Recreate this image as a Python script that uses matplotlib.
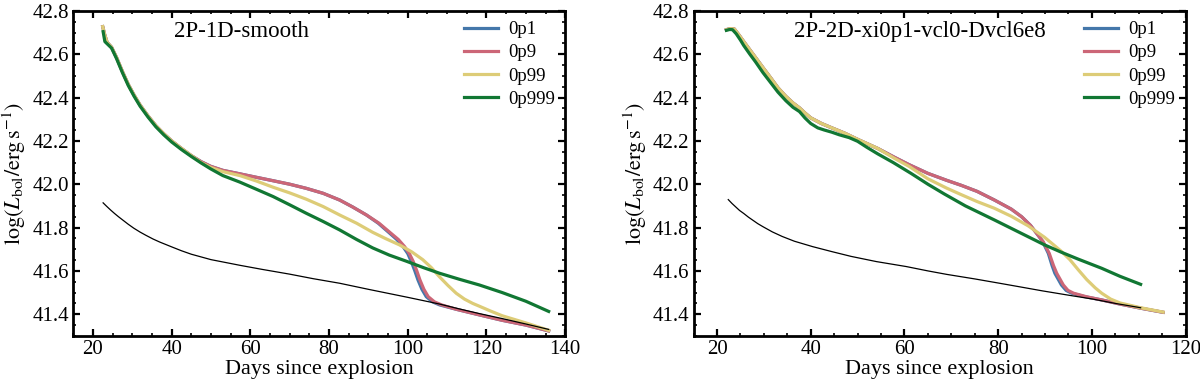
import matplotlib.pyplot as plt
from matplotlib.ticker import MultipleLocator

plt.rcParams['font.family'] = ['Liberation Serif', 'DejaVu Serif']
plt.rcParams['mathtext.fontset'] = 'stix'

labels = ['0p1', '0p9', '0p99', '0p999']
colors = ['#4477AA', '#CC6677', '#DDCC77', '#117733']

# ---- left panel: 2P-1D-smooth ----
l_early_day = [22.5, 23.0, 23.6, 24.75, 26.0, 27.5, 29.0, 30.5, 32.0, 34.0, 36.0, 38.0, 40.0, 42.5, 45.0]
l_early_val = [42.727, 42.69, 42.655, 42.632, 42.585, 42.52, 42.46, 42.41, 42.365, 42.315, 42.27,
               42.233, 42.2, 42.165, 42.132]

l_blue_day = l_early_day + [47.5, 50.0, 53.0, 57.3, 61.5, 65.8, 70.0, 74.2, 78.5, 82.7, 86.0, 89.5,
                            92.5, 95.4, 97.2, 98.8, 100.0, 100.9, 101.8, 102.6, 103.6, 104.7, 106.3,
                            108.1, 112.3, 118.2, 124.0, 130.0, 135.8]
l_blue_val = l_early_val + [42.104, 42.082, 42.064, 42.048, 42.032, 42.016, 42.0, 41.981, 41.958,
                            41.927, 41.895, 41.858, 41.82, 41.774, 41.745, 41.712, 41.68, 41.643,
                            41.6, 41.558, 41.515, 41.481, 41.457, 41.443, 41.423, 41.397, 41.372,
                            41.35, 41.323]
l_red_day = l_early_day + [47.5, 50.0, 53.0, 57.3, 61.5, 65.8, 70.0, 74.2, 78.5, 82.7, 86.0, 89.5,
                           92.7, 95.7, 97.6, 99.2, 100.4, 101.4, 102.3, 103.1, 104.1, 105.2, 106.8,
                           108.6, 112.3, 118.2, 124.0, 130.0, 135.8]
l_red_val = l_blue_val
l_yel_day = l_early_day + [47.5, 50.0, 53.0, 57.3, 61.5, 65.8, 70.0, 74.2, 78.5, 82.7, 87.0, 91.1,
                           94.5, 97.9, 101.0, 103.8, 106.0, 108.1, 110.2, 112.3, 114.4, 116.5, 118.2,
                           121.0, 124.0, 130.0, 135.8]
l_yel_val = l_early_val + [42.1, 42.077, 42.058, 42.04, 42.015, 41.986, 41.96, 41.931, 41.897,
                           41.858, 41.82, 41.778, 41.748, 41.72, 41.688, 41.652, 41.615, 41.572,
                           41.533, 41.497, 41.47, 41.45, 41.437, 41.415, 41.393, 41.36, 41.326]
l_grn_day = [22.6, 23.05, 23.9, 24.75, 26.0, 27.5, 29.0, 30.5, 32.0, 34.0, 36.0, 38.0, 40.0, 42.5,
             45.0, 47.5, 50.0, 53.0, 57.3, 61.5, 65.8, 70.0, 74.2, 78.5, 82.7, 87.0, 91.1, 95.3,
             99.6, 104.0, 108.1, 113.0, 118.2, 124.0, 130.0, 135.8]
l_grn_val = [42.704, 42.658, 42.643, 42.628, 42.58, 42.515, 42.455, 42.405, 42.36, 42.31, 42.265,
             42.228, 42.195, 42.16, 42.128, 42.098, 42.07, 42.04, 42.01, 41.977, 41.943, 41.905,
             41.866, 41.828, 41.789, 41.745, 41.706, 41.673, 41.645, 41.615, 41.589, 41.562,
             41.535, 41.5, 41.46, 41.413]
l_blk_day = [22.6, 23.5, 24.5, 25.5, 26.5, 27.5, 29.0, 30.4, 32.0, 33.5, 35.3, 37.0, 38.5, 40.0,
             42.5, 45.0, 50.0, 57.3, 63.0, 70.0, 76.0, 82.7, 90.0, 100.0, 108.1, 113.0, 118.2,
             124.0, 130.0, 135.8]
l_blk_val = [41.914, 41.898, 41.881, 41.865, 41.85, 41.836, 41.815, 41.797, 41.779, 41.764, 41.747,
             41.733, 41.722, 41.711, 41.693, 41.677, 41.652, 41.626, 41.607, 41.585, 41.564,
             41.543, 41.515, 41.478, 41.447, 41.425, 41.403, 41.38, 41.355, 41.33]

# ---- right panel: 2P-2D-xi0p1-vcl0-Dvcl6e8 ----
r_early_day = [22.0, 22.8, 23.7, 24.7, 25.7, 27.0, 28.2, 29.8, 31.4, 33.0, 34.7, 36.2, 37.6, 38.8,
               40.0, 42.3, 44.5, 47.3, 50.2, 54.3]
r_early_val = [42.713, 42.718, 42.716, 42.688, 42.658, 42.62, 42.585, 42.538, 42.492, 42.445,
               42.405, 42.375, 42.352, 42.328, 42.306, 42.28, 42.26, 42.235, 42.205, 42.165]

r_blue_day = r_early_day + [57.8, 61.0, 65.0, 69.0, 72.1, 75.5, 79.2, 82.8, 85.0, 86.9, 88.5, 89.5,
                            90.7, 91.5, 92.1, 93.5, 94.5, 95.7, 98.5, 102.1, 106.0, 110.4, 115.2]
r_blue_val = r_early_val + [42.125, 42.09, 42.05, 42.018, 41.995, 41.967, 41.927, 41.885, 41.85,
                            41.81, 41.765, 41.735, 41.681, 41.625, 41.589, 41.535, 41.51, 41.497,
                            41.481, 41.466, 41.447, 41.428, 41.409]
r_red_day = r_early_day + [57.8, 61.0, 65.0, 69.0, 72.1, 75.5, 79.2, 82.8, 85.0, 86.9, 88.5, 89.6,
                           90.9, 91.8, 92.5, 93.9, 94.9, 96.1, 98.8, 102.1, 106.0, 110.4, 115.2]
r_red_val = r_blue_val
r_yel_day = r_early_day + [57.8, 61.0, 65.0, 69.0, 72.1, 75.5, 79.2, 82.8, 86.4, 89.9, 93.5, 95.3,
                           97.1, 98.9, 100.7, 102.1, 104.0, 106.0, 110.4, 115.2]
r_yel_val = r_early_val + [42.12, 42.082, 42.025, 41.982, 41.952, 41.92, 41.889, 41.852, 41.808,
                           41.755, 41.69, 41.652, 41.605, 41.56, 41.522, 41.497, 41.47, 41.452,
                           41.43, 41.41]
r_grn_day = [22.0, 22.7, 23.3, 24.1, 25.0, 25.7, 27.0, 28.2, 29.8, 31.4, 33.0, 34.7, 36.2, 37.6,
             38.8, 40.0, 41.5, 42.9, 44.5, 46.1, 48.2, 50.0, 52.0, 54.3, 57.6, 61.4, 65.0, 68.5,
             73.0, 79.2, 84.5, 89.9, 93.5, 97.0, 102.1, 106.0, 110.4]
r_grn_val = [42.71, 42.714, 42.713, 42.694, 42.665, 42.64, 42.6, 42.565, 42.515, 42.47, 42.425,
             42.385, 42.355, 42.335, 42.305, 42.28, 42.26, 42.25, 42.24, 42.228, 42.215, 42.198,
             42.17, 42.14, 42.1, 42.05, 42.0, 41.955, 41.9, 41.835, 41.778, 41.72, 41.686,
             41.655, 41.612, 41.575, 41.538]
r_blk_day = [22.4, 23.2, 24.0, 24.8, 25.7, 26.7, 27.7, 28.7, 29.8, 31.8, 33.9, 36.5, 40.4, 44.5,
             48.6, 54.0, 60.4, 65.0, 69.0, 75.0, 80.3, 85.0, 89.4, 95.0, 100.2, 105.0, 110.4]
r_blk_val = [41.929, 41.911, 41.895, 41.879, 41.865, 41.848, 41.833, 41.818, 41.804, 41.78,
             41.759, 41.737, 41.712, 41.689, 41.667, 41.643, 41.62, 41.6, 41.584, 41.563, 41.543,
             41.525, 41.508, 41.488, 41.47, 41.45, 41.43]

panels = [
    ('2P-1D-smooth', 140,
     [(l_blue_day, l_blue_val), (l_red_day, l_red_val), (l_yel_day, l_yel_val), (l_grn_day, l_grn_val)],
     (l_blk_day, l_blk_val)),
    ('2P-2D-xi0p1-vcl0-Dvcl6e8', 120,
     [(r_blue_day, r_blue_val), (r_red_day, r_red_val), (r_yel_day, r_yel_val), (r_grn_day, r_grn_val)],
     (r_blk_day, r_blk_val)),
]

fig = plt.figure(figsize=(12, 3.87), dpi=100)
lefts = [0.061, 0.578]

for (title, xmax, series, blk), left in zip(panels, lefts):
    ax = fig.add_axes([left, 0.132, 0.410, 0.840])
    for (d, v), c, lab in zip(series, colors, labels):
        ax.plot(d, v, color=c, lw=2.3, label=lab, solid_joinstyle='round')
    ax.plot(blk[0], blk[1], color='black', lw=0.9)

    ax.set_xlim(15, xmax)
    ax.set_ylim(41.3, 42.8)
    ax.xaxis.set_major_locator(MultipleLocator(20))
    ax.xaxis.set_minor_locator(MultipleLocator(5))
    ax.yaxis.set_major_locator(MultipleLocator(0.2))
    ax.yaxis.set_minor_locator(MultipleLocator(0.05))
    ax.yaxis.set_major_formatter(plt.FormatStrFormatter('%.1f'))
    ax.tick_params(which='both', direction='in', top=True, right=True, labelsize=15, width=1.6, pad=3)
    ax.tick_params(which='major', length=5)
    ax.tick_params(which='minor', length=2.5, width=1.2)
    for s in ax.spines.values():
        s.set_linewidth(2.0)

    ax.set_xlabel('Days since explosion', fontsize=16, labelpad=1)
    ax.set_ylabel(r'$\log(L_{\rm bol}/{\rm erg\,s^{-1}})$', fontsize=16, labelpad=3)
    ax.text(0.204, 0.936, title, transform=ax.transAxes, fontsize=16.5, ha='left', va='center')
    ax.legend(loc='upper right', frameon=False, fontsize=13.5, handlelength=1.8,
              handletextpad=0.55, labelspacing=0.32, borderaxespad=0.0, borderpad=0.55)

fig.savefig('out.png', dpi=100)
